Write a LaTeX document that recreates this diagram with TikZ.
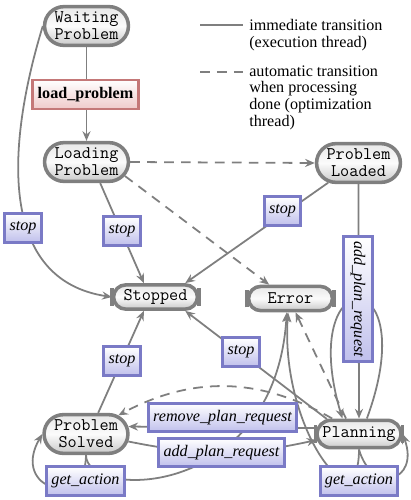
\documentclass[tikz,border=0pt]{standalone}
\usepackage{fontspec}
\setmainfont{Liberation Serif}
\usetikzlibrary{arrows.meta,shapes.misc}
\definecolor{edgegray}{HTML}{7F7F7F}
\definecolor{lblblue}{HTML}{7A7AC6}
\definecolor{lblfill}{HTML}{C0C0EC}
\definecolor{redborder}{HTML}{C47878}
\definecolor{redfill}{HTML}{EFCACA}
\begin{document}
\begin{tikzpicture}[x=0.62pt,y=0.62pt,
  stnode/.style={rounded rectangle, draw=edgegray, line width=2.2pt,
    top color=gray!18, bottom color=gray!42, middle color=gray!3,
    font=\ttfamily\fontsize{11}{10.5}\selectfont, align=center,
    minimum width=54pt, minimum height=15pt, inner xsep=1pt, inner ysep=2.5pt},
  two/.style={minimum height=24pt},
  lbl/.style={draw=lblblue, line width=1.8pt, top color=white, bottom color=lblfill,
    font=\itshape, inner xsep=3pt, inner ysep=0pt, minimum height=17.5pt},
  keylbl/.style={draw=redborder, line width=1.8pt, top color=white, bottom color=redfill,
    font=\bfseries, inner xsep=3pt, inner ysep=0pt, minimum height=18pt},
  trans/.style={draw=edgegray, line width=1.1pt, -{Stealth[length=6pt,width=5pt,inset=2pt]}},
  autotrans/.style={trans, dash pattern=on 6pt off 4.5pt},
  endbar/.style={draw=edgegray, line width=2.2pt},
  legtext/.style={anchor=north west, inner sep=0pt, align=left, font=\fontsize{10}{10.5}\selectfont}]
\useasboundingbox (0,0) rectangle (410,-500);

% states
\node[stnode,two] (wait) at (86.5,-26) {Waiting\\Problem};
\node[stnode,two] (load) at (86.5,-162) {Loading\\Problem};
\node[stnode,two] (loaded) at (358.5,-163) {Problem\\Loaded};
\node[stnode] (stopped) at (155.5,-297) {Stopped};
\node[stnode] (error) at (290.5,-298.5) {Error};
\node[stnode,two] (solved) at (86,-434) {Problem\\Solved};
\node[stnode,minimum height=17pt] (planning) at (359,-434) {Planning};

\foreach \n in {stopped,error,planning}{
  \draw[endbar] ([yshift=-5.5pt]\n.west) -- ([yshift=5.5pt]\n.west);
  \draw[endbar] ([yshift=-5.5pt]\n.east) -- ([yshift=5.5pt]\n.east);
}

% transitions
\draw[trans] (wait.south) -- (load.north);
\draw[autotrans] (load.east) -- (loaded.west);
\draw[autotrans] (load.-20) -- (error.147);
\draw[trans] (wait.west) .. controls (5,-150) and (0,-280) .. (stopped.west);
\draw[trans] (load.-57) -- (stopped.130);
\draw[trans] (loaded.-147) -- (stopped.25);
\draw[trans] (loaded.south) -- (planning.north);
\draw[trans] (planning.63) .. controls (425,-260) and (295,-260) .. (planning.137);
\draw[trans] (solved.60) -- (stopped.-130);
\draw[trans] (planning.155) -- (stopped.-25);
\draw[trans] (planning.172) -- (solved.10);
\draw[trans] (solved.-10) to[bend right=12] (planning.188);
\draw[autotrans] (planning.150) to[bend right=29] (solved.30);
\draw[trans] (solved.south) .. controls (86,-510) and (10,-490) .. (solved.west);
\draw[trans] (planning.south) .. controls (372,-495) and (420,-482) .. (planning.east);
\draw[trans] (solved.south) .. controls (86,-500) and (275,-500) .. (error.-105);
\draw[trans] (planning.south) .. controls (359,-530) and (280,-430) .. (error.-100);
\draw[autotrans] (planning.130) -- (error.-70);

% labels
\node[keylbl] (lp) at (85.5,-94.5) {load\_problem};
\node[lbl] (s1) at (23,-228) {stop};
\node[lbl] (s2) at (122,-231) {stop};
\node[lbl] (s3) at (282.5,-211) {stop};
\node[lbl, rotate=-90] (apv) at (358,-299) {add\_plan\_request};
\node[lbl] (s4) at (122,-361) {stop};
\node[lbl] (s5) at (241,-352) {stop};
\node[lbl] (rpr) at (222.5,-417.5) {remove\_plan\_request};
\node[lbl] (aph) at (221.5,-452.5) {add\_plan\_request};
\node[lbl] (ga1) at (85.5,-481) {get\_action};
\node[lbl] (ga2) at (359,-481) {get\_action};

% legend
\coordinate (la) at (200,-25); \coordinate (lb) at (243,-25);
\draw[draw=edgegray, line width=1.1pt] (la) -- (lb);
\node[legtext] (lt1) at (249,-19) {immediate transition\\(execution thread)};
\coordinate (lc) at (200,-72); \coordinate (ld) at (243,-72);
\draw[draw=edgegray, line width=1.1pt, dash pattern=on 6pt off 4.5pt] (lc) -- (ld);
\node[legtext] (lt2) at (249,-65) {automatic transition\\when processing\\done (optimization\\thread)};
\end{tikzpicture}
\end{document}
